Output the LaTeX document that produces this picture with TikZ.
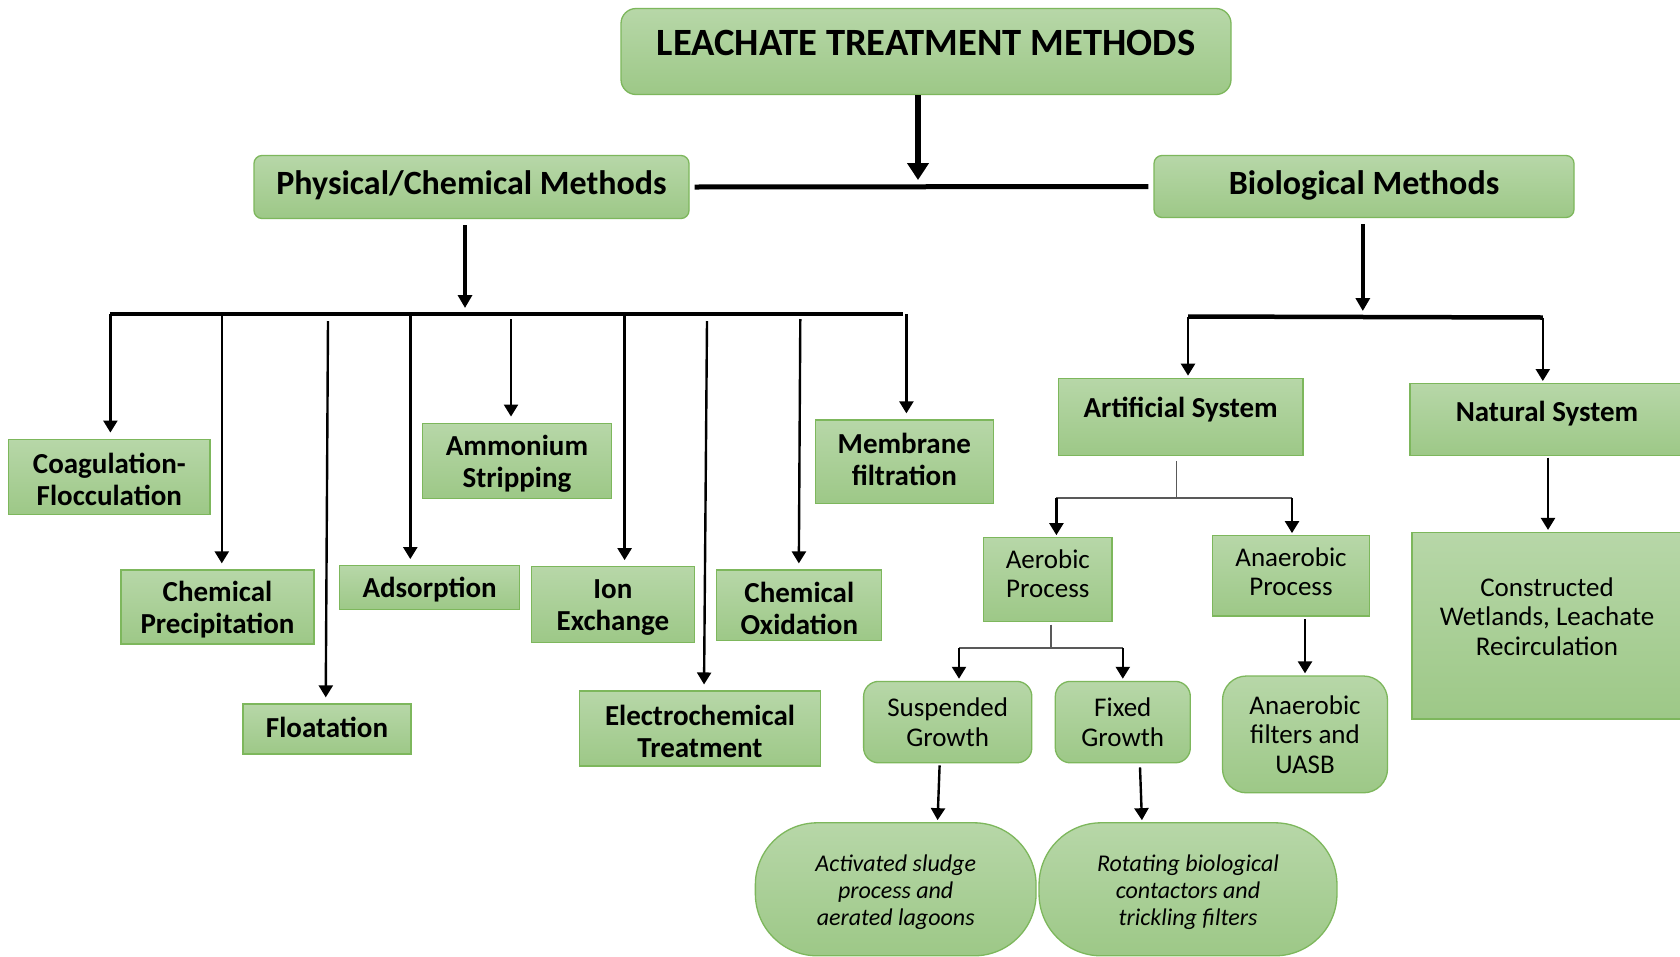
\documentclass[tikz,border=0pt]{standalone}
\usepackage{fontspec}
\setmainfont{Carlito}
\usetikzlibrary{arrows.meta}
\definecolor{gtop}{RGB}{183,215,168}
\definecolor{gbot}{RGB}{157,200,135}
\definecolor{gline}{RGB}{125,183,92}
\definecolor{conn}{RGB}{89,89,89}
\tikzset{
 gbox/.style={draw=gline, line width=1.3pt, top color=gtop, bottom color=gbot, inner sep=0pt, align=center, text=black},
 bfont/.style={font=\bfseries\fontsize{29}{32}\selectfont},
 rfont/.style={font=\fontsize{27}{29.5}\selectfont},
 ifont/.style={font=\itshape\fontsize{24}{27}\selectfont},
 hfont/.style={font=\bfseries\fontsize{34}{38}\selectfont},
 txt/.style={inner sep=0pt, align=center, text=black},
 arr/.style={line width=2.4pt, -{Triangle[width=14pt,length=12pt]}, shorten >=2pt},
 larr/.style={line width=2.4pt, -{Triangle[width=14pt,length=12pt]}, shorten >=6pt},
 barline/.style={line width=4.5pt},
 tline/.style={line width=1.5pt, draw=conn},
}
\begin{document}
\begin{tikzpicture}[x=1pt,y=-1pt]
\fill[white] (0,0) rectangle (1680,956);
\useasboundingbox (0,0) rectangle (1680,956);

% ---------- title ----------
\node[gbox, rounded corners=15pt, minimum width=610pt, minimum height=86pt] (title) at (926,51.5) {};
\node[txt, font=\bfseries\fontsize{38.6}{42}\selectfont] (titleT) at (926,43) {LEACHATE TREATMENT METHODS};

\node[gbox, rounded corners=8pt, minimum width=435pt, minimum height=63pt] (phys) at (471.5,187) {};
\node[txt, hfont] (physT) at (471.5,185.5) {Physical/Chemical Methods};
\node[gbox, rounded corners=8pt, minimum width=420pt, minimum height=62pt] (bio) at (1364,186.5) {};
\node[txt, hfont] (bioT) at (1364,185.5) {Biological Methods};

\coordinate (ta) at (918,0);
\coordinate (tend) at (918,180);
\draw[line width=5.5pt, -{Triangle[width=21pt,length=17pt]}] (title.south -| ta) -- (tend);
\draw[line width=5pt] ([xshift=5pt]phys.east) -- ([xshift=-5pt]bio.west);

% ---------- physical / chemical ----------
\coordinate (pstart) at (465,225);
\coordinate (pend) at (465,308);
\draw[line width=3.6pt, -{Triangle[width=14pt,length=13pt]}] (pstart) -- (pend);
\coordinate (pbl) at (110.4,314);
\coordinate (pbr) at (903,314);
\draw[barline] (pbl) -- (pbr);

\node[gbox, minimum width=201.4pt, minimum height=75pt] (coag) at (109.3,476.7) {};
\node[gbox, minimum width=193pt, minimum height=74pt] (chpr) at (217.5,607) {};
\node[gbox, minimum width=168pt, minimum height=50pt] (flot) at (327,729) {};
\node[gbox, minimum width=180pt, minimum height=44pt] (ads) at (429.6,587.7) {};
\node[gbox, minimum width=189.6pt, minimum height=75pt] (amm) at (517,460.7) {};
\node[gbox, minimum width=163pt, minimum height=76pt] (ion) at (612.9,604.8) {};
\node[gbox, minimum width=241pt, minimum height=75pt] (elec) at (700,728.6) {};
\node[gbox, minimum width=165pt, minimum height=70.7pt] (chox) at (799.3,605.4) {};
\node[gbox, minimum width=178pt, minimum height=83.6pt] (memb) at (904.3,461.8) {};

\node[txt, bfont] (coagT) at (109.3,479) {Coagulation-\\Flocculation};
\node[txt, bfont] (chprT) at (217.5,609.5) {Chemical\\Precipitation};
\node[txt, bfont] (flotT) at (327,727.5) {Floatation};
\node[txt, bfont] (adsT) at (429.6,590) {Adsorption};
\node[txt, bfont] (ammT) at (517,463.5) {Ammonium\\Stripping};
\node[txt, bfont] (ionT) at (612.9,607.5) {Ion\\Exchange};
\node[txt, bfont] (elecT) at (700,731) {Electrochemical\\Treatment};
\node[txt, bfont] (choxT) at (799.3,608.3) {Chemical\\Oxidation};
\node[txt, bfont] (membT) at (904.3,459.5) {Membrane\\filtration};

\coordinate (c1) at (110.4,314);
\coordinate (c2) at (221.8,316);
\coordinate (c3) at (328,321);
\coordinate (c4) at (410.3,316);
\coordinate (c5) at (511,319);
\coordinate (c6) at (624.6,316);
\coordinate (c7) at (707,321);
\coordinate (c8) at (800.3,319);
\coordinate (c9) at (906.4,314);
\draw[larr] (c1) -- (c1 |- coag.north);
\draw[larr] (c2) -- (c2 |- chpr.north);
\draw[larr] (c3) -- ([xshift=-1.3pt]flot.north);
\draw[larr] (c4) -- (c4 |- ads.north);
\draw[larr] (c5) -- (c5 |- amm.north);
\draw[larr] (c6) -- (c6 |- ion.north);
\draw[larr] (c7) -- ([xshift=4pt]elec.north);
\draw[larr] (c8) -- ([xshift=-0.5pt]chox.north);
\draw[larr] (c9) -- (c9 |- memb.north);

% ---------- biological ----------
\coordinate (bs) at (1362.8,224);
\coordinate (be) at (1362.8,311);
\draw[line width=3.6pt, -{Triangle[width=14pt,length=13pt]}] (bs) -- (be);
\coordinate (bbl) at (1188,316.5);
\coordinate (bbr) at (1542.8,317.5);
\draw[barline] (bbl) -- (bbr);

\node[gbox, minimum width=244.3pt, minimum height=77pt] (art) at (1180.7,416.8) {};
\node[txt, bfont] (artT) at (1180.7,410) {Artificial System};
\node[gbox, minimum width=274pt, minimum height=71.7pt] (nat) at (1547,419.5) {};
\node[txt, bfont] (natT) at (1547,413.3) {Natural System};
\draw[arr] (bbl) -- (bbl |- art.north);
\draw[arr] (bbr) -- (bbr |- nat.north);

\node[gbox, minimum width=128.5pt, minimum height=83.6pt] (aer) at (1047.8,579.6) {};
\node[txt, rfont] (aerT) at (1047.8,573.7) {Aerobic\\Process};
\node[gbox, minimum width=156.4pt, minimum height=80.3pt] (anp) at (1291,575.9) {};
\node[txt, rfont] (anpT) at (1291,571.6) {Anaerobic\\Process};

\coordinate (a1) at (1176.4,461);
\coordinate (a2) at (1176.4,498.2);
\coordinate (a3) at (1056.4,498.2);
\coordinate (a4) at (1292,498.2);
\draw[tline] (a1) -- (a2);
\draw[tline] (a3) -- (a4);
\draw[arr] (a3) -- (a3 |- aer.north);
\draw[arr] (a4) -- (a4 |- anp.north);

\node[gbox, rfont, rounded corners=15pt, minimum width=168.2pt, minimum height=81.4pt] (sus) at (947.7,722.1) {Suspended\\Growth};
\node[gbox, rfont, rounded corners=15pt, minimum width=135pt, minimum height=81.4pt] (fix) at (1122.8,722.1) {Fixed\\Growth};
\node[gbox, rfont, rounded corners=24pt, minimum width=165pt, minimum height=116.8pt] (anf) at (1305,734.4) {Anaerobic\\filters and\\UASB};

\coordinate (e1) at (1051,624.6);
\coordinate (e2) at (1051,648.2);
\coordinate (e3) at (959,648.2);
\coordinate (e4) at (1122.8,648.2);
\draw[tline] (e1) -- (e2);
\draw[tline] (e3) -- (e4);
\draw[arr] (e3) -- (e3 |- sus.north);
\draw[arr] (e4) -- (e4 |- fix.north);

\coordinate (n1) at (1305,619);
\draw[arr] (n1) -- (n1 |- anf.north);

\node[gbox, minimum width=270pt, minimum height=186.5pt] (natb) at (1547,625.8) {};
\node[txt, rfont] (natbT) at (1547,616.6) {Constructed\\Wetlands, Leachate\\Recirculation};
\coordinate (nn) at (1548,457.5);
\draw[arr] (nn) -- (nn |- natb.north);

\node[gbox, rounded corners=62pt, minimum width=280.7pt, minimum height=133pt] (ovl) at (895.7,889.3) {};
\node[gbox, rounded corners=62pt, minimum width=297.9pt, minimum height=133pt] (ovr) at (1188,889.3) {};
\node[txt, ifont] (ovlT) at (895.7,892.5) {Activated sludge\\process and\\aerated lagoons};
\node[txt, ifont] (ovrT) at (1188,892.5) {Rotating biological\\contactors and\\trickling filters};

\draw[arr] ([xshift=-8.1pt,yshift=-2pt]sus.south) -- ([xshift=41.8pt]ovl.north);
\draw[arr] ([xshift=17.2pt,yshift=-4pt]fix.south) -- ([xshift=-46pt]ovr.north);
\end{tikzpicture}
\end{document}
